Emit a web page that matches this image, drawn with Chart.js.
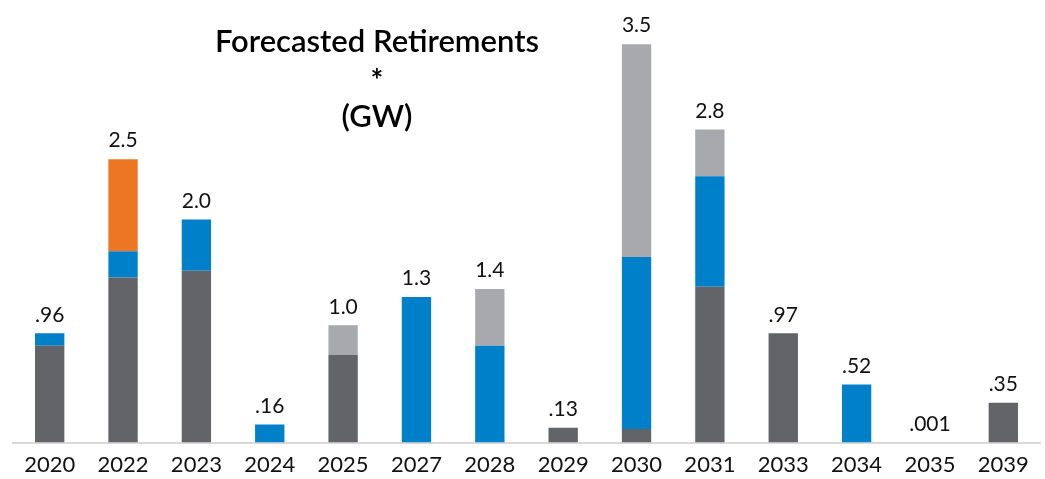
<!DOCTYPE html>
<html>
<head>
<meta charset="utf-8">
<script src="https://cdn.jsdelivr.net/npm/chart.js@4.4.1/dist/chart.umd.min.js"></script>
<style>
  html, body { margin: 0; padding: 0; background: #fff; }
  #wrap { width: 1045px; height: 479px; position: relative; }
</style>
</head>
<body>
<div id="wrap"><canvas id="retireChart"></canvas></div>
<script>
// years along the x axis
const years = ['2020', '2022', '2023', '2024', '2025', '2027', '2028', '2029', '2030', '2031', '2033', '2034', '2035', '2039'];

// GW by segment, stacked bottom to top
const darkGray  = [0.85, 1.45, 1.51, 0,    0.77, 0,    0,    0.13, 0.12, 1.37, 0.96, 0,    0.001, 0.35];
const blue      = [0.11, 0.23, 0.45, 0.16, 0,    1.28, 0.85, 0,    1.51, 0.97, 0,    0.51, 0,     0];
const orange    = [0,    0.81, 0,    0,    0,    0,    0,    0,    0,    0,    0,    0,    0,     0];
const lightGray = [0,    0,    0,    0,    0.26, 0,    0.50, 0,    1.87, 0.41, 0,    0,    0,     0];

// total labels shown above each stack
const totalLabels = ['.96', '2.5', '2.0', '.16', '1.0', '1.3', '1.4', '.13', '3.5', '2.8', '.97', '.52', '.001', '.35'];

const titleLines = ['Forecasted Retirements', '*', '(GW)'];

const FONT = 'Lato, "Open Sans", sans-serif';

// draws the stack totals above each bar
const totalsPlugin = {
  id: 'totals',
  afterDatasetsDraw(chart) {
    const ctx = chart.ctx;
    const y = chart.scales.y;
    const x = chart.scales.x;
    ctx.save();
    ctx.font = '21px ' + FONT;
    ctx.fillStyle = '#111';
    ctx.textAlign = 'center';
    ctx.textBaseline = 'bottom';
    years.forEach((yr, i) => {
      const sum = darkGray[i] + blue[i] + orange[i] + lightGray[i];
      ctx.fillText(totalLabels[i], x.getPixelForValue(i), y.getPixelForValue(sum) - 8);
    });
    ctx.restore();
  }
};

// title block sits inside the plot, upper left
const titlePlugin = {
  id: 'titleBlock',
  afterDraw(chart) {
    const ctx = chart.ctx;
    ctx.save();
    ctx.fillStyle = '#000';
    ctx.textAlign = 'center';
    ctx.textBaseline = 'alphabetic';
    ctx.font = '600 31px ' + FONT;
    ctx.fillText(titleLines[0], 377, 52);
    ctx.font = 'bold 30px ' + FONT;
    ctx.fillText(titleLines[1], 377, 91);
    ctx.font = '600 31px ' + FONT;
    ctx.fillText(titleLines[2], 377, 127);
    ctx.restore();
  }
};

const mkSet = (label, data, color) => ({
  label, data,
  backgroundColor: color,
  borderWidth: 0,
  barPercentage: 0.4,
  categoryPercentage: 1.0
});

new Chart(document.getElementById('retireChart'), {
  type: 'bar',
  data: {
    labels: years,
    datasets: [
      mkSet('Dark', darkGray, '#636467'),
      mkSet('Blue', blue, '#0080C9'),
      mkSet('Orange', orange, '#EE7623'),
      mkSet('Light', lightGray, '#A7A9AC')
    ]
  },
  options: {
    responsive: true, maintainAspectRatio: false,
    animation: false,
    layout: { padding: { top: 10, left: 13, right: 5, bottom: 0 } },
    plugins: {
      legend: { display: false },
      tooltip: { enabled: false }
    },
    scales: {
      x: {
        stacked: true,
        grid: { display: false },
        border: { display: true, color: '#d9d9d9', width: 2 },
        ticks: { color: '#111', padding: 1, font: { family: FONT, size: 22 } }
      },
      y: {
        stacked: true,
        display: false,
        min: 0, max: 3.8
      }
    }
  },
  plugins: [totalsPlugin, titlePlugin]
});
</script>
</body>
</html>
